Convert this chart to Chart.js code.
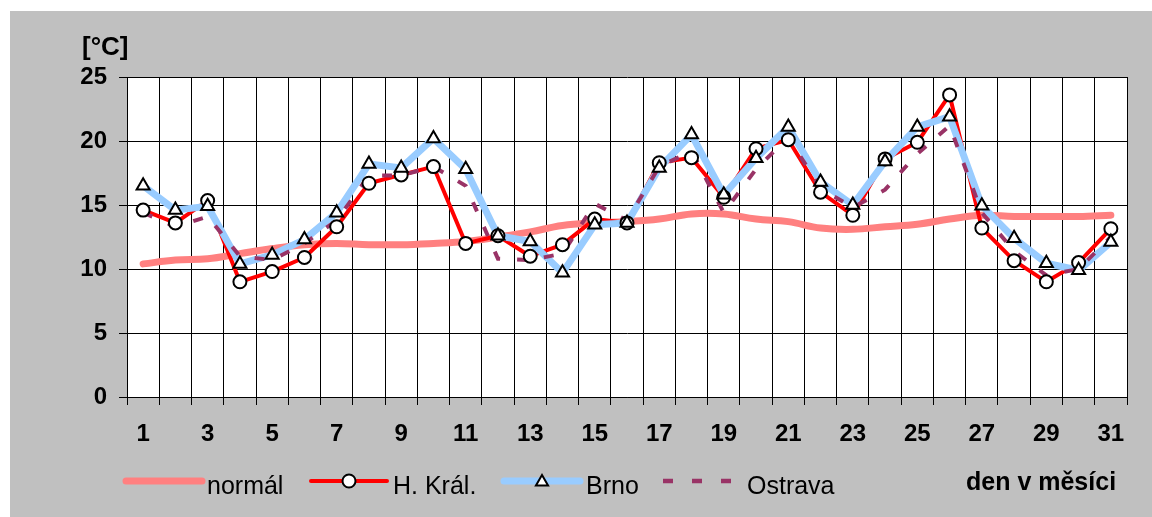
<!DOCTYPE html>
<html>
<head>
<meta charset="utf-8">
<script src="https://cdn.jsdelivr.net/npm/chart.js@4.4.1/dist/chart.umd.min.js"></script>
<style>
html,body{margin:0;padding:0;background:#fff;}
#wrap{position:relative;width:1152px;height:517px;}
</style>
</head>
<body>
<div id="wrap"><canvas id="c"></canvas></div>
<script>
const days = ['1','2','3','4','5','6','7','8','9','10','11','12','13','14','15','16','17','18','19','20','21','22','23','24','25','26','27','28','29','30','31'];
const normal = [10.4,10.7,10.8,11.2,11.6,11.9,12.0,11.9,11.9,12.0,12.15,12.5,12.9,13.4,13.6,13.7,13.9,14.3,14.3,13.9,13.7,13.2,13.1,13.3,13.5,13.9,14.2,14.1,14.1,14.1,14.2];
const hradecKralove = [14.6,13.6,15.35,9.0,9.8,10.9,13.3,16.7,17.35,18.0,12.0,12.6,11.0,11.9,13.9,13.6,18.3,18.7,15.6,19.4,20.1,16.0,14.2,18.6,19.9,23.6,13.2,10.65,9.0,10.5,13.15];
const brno = [16.5,14.6,14.9,10.4,11.1,12.3,14.4,18.2,17.9,20.2,17.8,12.6,12.15,9.7,13.45,13.6,17.9,20.5,15.8,18.65,21.1,16.8,15.0,18.4,21.1,21.9,14.95,12.4,10.45,9.9,12.1];
const ostrava = [14.4,13.3,14.1,11.0,10.7,12.0,13.8,17.3,17.3,18.0,16.5,10.8,10.7,11.2,15.1,13.8,18.0,19.2,14.4,17.8,20.3,16.3,14.8,16.2,19.0,21.2,14.4,11.4,9.5,10.0,12.5];
const seriesNames = ['normál','H. Král.','Brno','Ostrava'];
const yTickValues = [0,5,10,15,20,25];
const yUnit = '[°C]';
const xTitle = 'den v měsíci';

const FONT = "'Liberation Sans', Arial, Helvetica, sans-serif";
const C_NORMAL = '#FF8080', C_HK = '#FF0000', C_BRNO = '#99CCFF', C_OSTRAVA = '#993366';

function drawTriangle(ctx, x, y, r) {
  ctx.beginPath();
  for (let i = 0; i < 3; i++) {
    const a = -Math.PI / 2 + i * 2 * Math.PI / 3;
    const px = x + Math.cos(a) * r, py = y + Math.sin(a) * r;
    if (i === 0) ctx.moveTo(px, py); else ctx.lineTo(px, py);
  }
  ctx.closePath();
  ctx.fillStyle = '#fff'; ctx.fill();
  ctx.lineWidth = 2; ctx.strokeStyle = '#000'; ctx.stroke();
}

const decor = {
  id: 'decor',
  beforeDraw(chart) {
    const ctx = chart.ctx, w = chart.width, h = chart.height, a = chart.chartArea;
    ctx.save();
    ctx.fillStyle = '#fff'; ctx.fillRect(0, 0, w, h);
    ctx.fillStyle = '#C0C0C0'; ctx.fillRect(10, 11, w - 10, h - 11);
    ctx.fillStyle = '#fff'; ctx.fillRect(a.left, a.top, a.right - a.left, a.bottom - a.top);
    ctx.restore();
  },
  afterDraw(chart) {
    const ctx = chart.ctx;
    ctx.save();
    ctx.fillStyle = '#000';
    ctx.textBaseline = 'alphabetic';
    ctx.textAlign = 'left';
    ctx.font = 'bold 26px ' + FONT;
    ctx.fillText(yUnit, 82, 55);
    ctx.font = 'bold 25px ' + FONT;
    ctx.fillText(xTitle, 966, 490);
    // legend
    const ly = 481;
    ctx.lineCap = 'round';
    ctx.strokeStyle = C_NORMAL; ctx.lineWidth = 7;
    ctx.beginPath(); ctx.moveTo(126, ly); ctx.lineTo(202, ly); ctx.stroke();
    ctx.strokeStyle = C_HK; ctx.lineWidth = 4;
    ctx.beginPath(); ctx.moveTo(311, ly); ctx.lineTo(387, ly); ctx.stroke();
    ctx.beginPath(); ctx.arc(349, ly, 6.5, 0, Math.PI * 2);
    ctx.fillStyle = '#fff'; ctx.fill(); ctx.lineWidth = 2; ctx.strokeStyle = '#000'; ctx.stroke();
    ctx.strokeStyle = C_BRNO; ctx.lineWidth = 7;
    ctx.beginPath(); ctx.moveTo(504, ly); ctx.lineTo(580, ly); ctx.stroke();
    drawTriangle(ctx, 542, ly + 1, 7);
    ctx.lineCap = 'butt';
    ctx.strokeStyle = C_OSTRAVA; ctx.lineWidth = 4.5;
    ctx.setLineDash([10, 19]);
    ctx.beginPath(); ctx.moveTo(663, ly); ctx.lineTo(735, ly); ctx.stroke();
    ctx.setLineDash([]);
    ctx.fillStyle = '#000';
    ctx.font = '25px ' + FONT;
    ctx.fillText(seriesNames[0], 207, 494);
    ctx.fillText(seriesNames[1], 393, 494);
    ctx.fillText(seriesNames[2], 586, 494);
    ctx.fillText(seriesNames[3], 747, 494);
    ctx.restore();
  }
};

new Chart(document.getElementById('c'), {
  type: 'line',
  data: {
    labels: days,
    datasets: [
      { label: seriesNames[0], data: normal, borderColor: C_NORMAL, borderWidth: 7, tension: 0.4,
        pointRadius: 0, pointHoverRadius: 0, borderCapStyle: 'round', borderJoinStyle: 'round', fill: false, order: 6 },
      { label: seriesNames[1], data: hradecKralove, borderColor: C_HK, borderWidth: 4, tension: 0,
        pointRadius: 0, pointHoverRadius: 0, borderJoinStyle: 'round', fill: false, order: 5 },
      { label: seriesNames[2], data: brno, borderColor: C_BRNO, borderWidth: 7, tension: 0,
        pointRadius: 0, pointHoverRadius: 0, borderJoinStyle: 'round', fill: false, order: 4 },
      { label: seriesNames[3], data: ostrava, borderColor: C_OSTRAVA, borderWidth: 4, tension: 0,
        borderDash: [10, 17], borderCapStyle: 'butt', pointRadius: 0, pointHoverRadius: 0, fill: false, order: 3 },
      { label: seriesNames[1] + ' markers', data: hradecKralove, showLine: false, pointStyle: 'circle',
        pointRadius: 6.5, pointBorderWidth: 2, pointBackgroundColor: '#fff', pointBorderColor: '#000', order: 2 },
      { label: seriesNames[2] + ' markers', data: brno, showLine: false, pointStyle: 'triangle',
        pointRadius: 7.5, pointBorderWidth: 2, pointBackgroundColor: '#fff', pointBorderColor: '#000', order: 1 }
    ]
  },
  options: {
    responsive: true,
    maintainAspectRatio: false,
    animation: false,
    events: [],
    layout: { padding: { left: 0, right: 25, top: 77, bottom: 0 } },
    plugins: { legend: { display: false }, tooltip: { enabled: false } },
    scales: {
      x: {
        type: 'category',
        offset: true,
        grid: { offset: true, color: '#000', lineWidth: 1, tickLength: 8, tickColor: '#000' },
        border: { color: '#000', width: 1 },
        ticks: {
          autoSkip: false, maxRotation: 0, minRotation: 0, color: '#000', padding: 15,
          font: { family: FONT, size: 24, weight: 'bold' },
          callback: function (v, i) { return i % 2 === 0 ? days[i] : ''; }
        },
        afterFit: s => { s.height = 120; }
      },
      y: {
        min: 0, max: 25,
        afterBuildTicks: s => { s.ticks = yTickValues.map(v => ({ value: v })); },
        grid: { color: '#000', lineWidth: 1, tickLength: 8, tickColor: '#000' },
        border: { color: '#000', width: 1 },
        ticks: { color: '#000', padding: 12, font: { family: FONT, size: 24, weight: 'bold' } },
        afterFit: s => { s.width = 127; }
      }
    }
  },
  plugins: [decor]
});
</script>
</body>
</html>
